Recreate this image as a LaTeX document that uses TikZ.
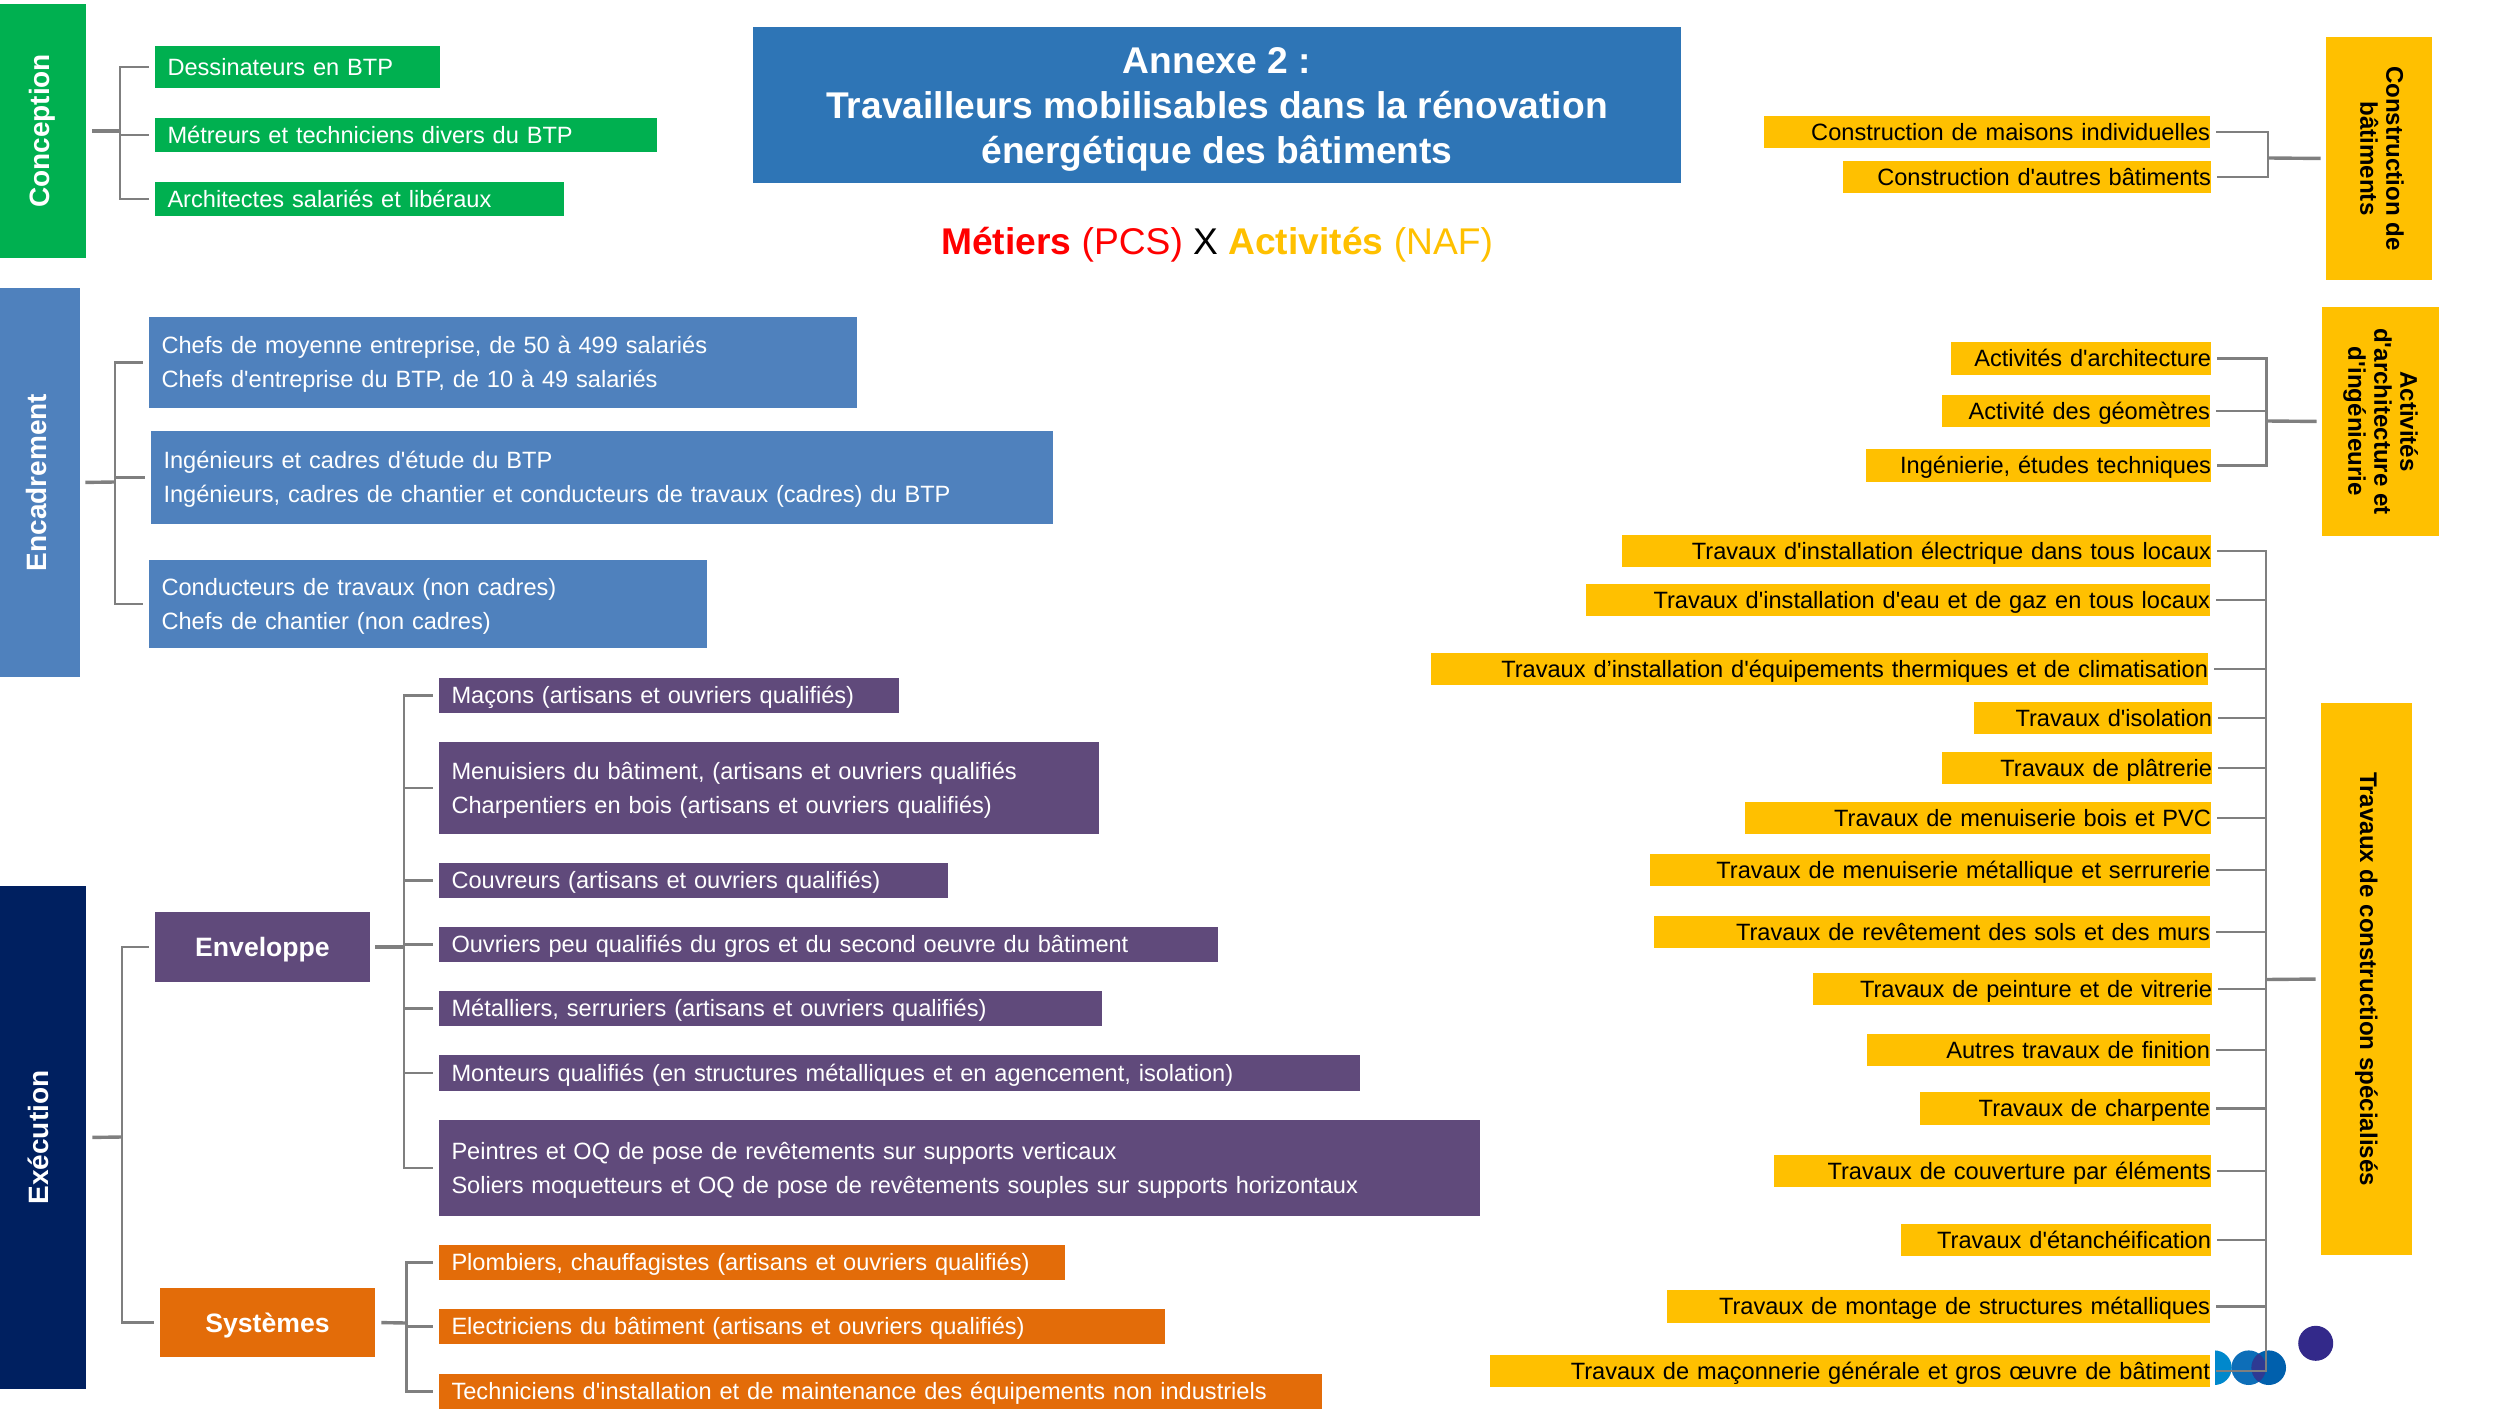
\documentclass[tikz,border=0pt]{standalone}
\usepackage{fontspec}
\setmainfont{Liberation Sans}[Ligatures=TeXOff]
\usetikzlibrary{positioning, calc}
\definecolor{concGreen}{HTML}{00B050}
\definecolor{encBlue}{HTML}{4F81BD}
\definecolor{execNavy}{HTML}{002060}
\definecolor{envPurple}{HTML}{604A7B}
\definecolor{sysOrange}{HTML}{E36C09}
\definecolor{nafYellow}{HTML}{FFC000}
\definecolor{titleBlue}{HTML}{2E75B6}
\definecolor{linkGray}{HTML}{7F7F7F}
\definecolor{metierRed}{HTML}{FF0000}
\definecolor{dotSky}{HTML}{0088CC}
\definecolor{dotMid}{HTML}{0D6EB8}
\definecolor{dotDeep}{HTML}{0060AD}
\definecolor{dotInk}{HTML}{2E3A93}
\definecolor{dotPurple}{HTML}{33298A}
% box given by its corners, in pixels of the page
\newcommand{\LeftBox}[7]{
    \node[#1, minimum width={(#5-#3)*0.5pt}, minimum height={(#6-#4)*0.5pt}, text width={(#5-#3-25)*0.5pt}] (#2) at ({(#3+#5)/2},{(#4+#6)/2}) {#7};
}
\newcommand{\RightBox}[6]{
    \node[nafBox, minimum width={(#4-#2)*0.5pt}, minimum height={(#5-#3)*0.5pt}, text width={(#4-#2)*0.5pt}] (#1) at ({(#2+#4)/2},{(#3+#5)/2}) {#6};
}
\newcommand{\SideBox}[7]{
    \node[#1, minimum width={(#6-#4)*0.5pt}, minimum height={(#5-#3)*0.5pt}] (#2) at ({(#3+#5)/2},{(#4+#6)/2}) {#7};
}
\newcommand{\TopStrut}{\rule{0pt}{12.15pt}}
\newcommand{\LowStrut}{\rule[-3.85pt]{0pt}{3.85pt}}
\tikzset{
    % Common
    pagePic/.style={x=0.5pt, y=-0.5pt},
    bodyFont/.style={font=\fontsize{11.8}{17}\selectfont},
    jobBox/.style={rectangle, draw=none, inner xsep=6.25pt, inner ysep=0pt, align=left, text=white, bodyFont,
        execute at begin node=\TopStrut, execute at end node=\LowStrut},
    concBox/.style={jobBox, fill=concGreen},
    encBox/.style={jobBox, fill=encBlue},
    envBox/.style={jobBox, fill=envPurple},
    sysBox/.style={jobBox, fill=sysOrange},
    nafBox/.style={rectangle, draw=none, fill=nafYellow, inner sep=0pt, align=right, text=black, bodyFont,
        execute at begin node=\TopStrut, execute at end node=\LowStrut},
    % Side Styles
    sideLeft/.style={rectangle, draw=none, inner sep=0pt, rotate=90, text=white, font=\fontsize{14}{17}\selectfont\bfseries},
    sideRight/.style={rectangle, draw=none, fill=nafYellow, inner sep=0pt, rotate=-90, align=center, text=black, font=\fontsize{12.05}{13}\selectfont\bfseries},
    groupBox/.style={rectangle, draw=none, inner sep=0pt, align=center, text=white, font=\fontsize{13.3}{16}\selectfont\bfseries,
        execute at begin node=\rule{0pt}{12.6pt}},
    % Links
    branchLine/.style={draw=linkGray, line width=1.2pt, shorten >=2.6pt},
    branchRight/.style={draw=linkGray, line width=1.2pt, shorten <=3pt},
    stemLine/.style={draw=linkGray, line width=1.7pt},
    % Title
    titleBox/.style={rectangle, draw=none, fill=titleBlue, inner sep=0pt, align=center, text=white, font=\fontsize{18.6}{22.5}\selectfont\bfseries},
    subTitle/.style={inner sep=0pt, font=\fontsize{18.6}{22}\selectfont}
}
\begin{document}
\begin{tikzpicture}[pagePic]
    \useasboundingbox (0,0) rectangle (2509,1411);

    % Title
    \node[titleBox, minimum width={928*0.5pt}, minimum height={156*0.5pt}] (title) at (1217,105) {\rule{0pt}{17.6pt}Annexe 2 :\\Travailleurs mobilisables dans la rénovation\\énergétique des bâtiments};
    \node[subTitle] (crossTitle) at (1217,244.5) {\textcolor{metierRed}{\textbf{Métiers} (PCS)} X \textcolor{nafYellow}{\textbf{Activités} (NAF)}};

    % Conception
    \SideBox{sideLeft, fill=concGreen}{conc}{0}{4}{86}{258}{\raisebox{3.6pt}{Conception}}
    \LeftBox{concBox}{dess}{155}{46}{440}{88}{Dessinateurs en BTP}
    \LeftBox{concBox}{metr}{155}{118}{657}{152}{Métreurs et techniciens divers du BTP}
    \LeftBox{concBox}{arch}{155}{182}{564}{216}{Architectes salariés et libéraux}
    \coordinate (concJoint) at (120,131);
    \draw[stemLine, shorten <=3pt] (conc.south) -- (concJoint);
    \foreach \n in {dess, metr, arch} \draw[branchLine] (concJoint) |- (\n.west);

    % Encadrement
    \SideBox{sideLeft, fill=encBlue}{enc}{0}{288}{80}{677}{\raisebox{4pt}{Encadrement}}
    \LeftBox{encBox}{chefs}{149}{317}{857}{408}{Chefs de moyenne entreprise, de 50 à 499 salariés\\Chefs d'entreprise du BTP, de 10 à 49 salariés}
    \LeftBox{encBox}{inge}{151}{431}{1053}{524}{Ingénieurs et cadres d'étude du BTP\\Ingénieurs, cadres de chantier et conducteurs de travaux (cadres) du BTP}
    \LeftBox{encBox}{cond}{149}{560}{707}{648}{Conducteurs de travaux (non cadres)\\Chefs de chantier (non cadres)}
    \coordinate (encJoint) at (115,482);
    \draw[stemLine, shorten <=2.5pt] (enc.south) -- (encJoint);
    \foreach \n in {chefs, inge, cond} \draw[branchLine] (encJoint) |- (\n.west);

    % Execution
    \SideBox{sideLeft, fill=execNavy}{exec}{0}{886}{86}{1389}{\raisebox{4.4pt}{Exécution}}
    \node[groupBox, fill=envPurple, minimum width={215*0.5pt}, minimum height={70*0.5pt}] (env) at (262.5,947) {Enveloppe};
    \node[groupBox, fill=sysOrange, minimum width={215*0.5pt}, minimum height={69*0.5pt}] (sys) at (267.5,1322.5) {Systèmes};
    \coordinate (execJoint) at (122,1137);
    \draw[stemLine, shorten <=3pt] (exec.south) -- (execJoint);
    \foreach \n in {env, sys} \draw[branchLine] (execJoint) |- (\n.west);

    % Enveloppe
    \LeftBox{envBox}{macon}{439}{678}{899}{713}{Maçons (artisans et ouvriers qualifiés)}
    \LeftBox{envBox}{menu}{439}{742}{1099}{834}{Menuisiers du bâtiment, (artisans et ouvriers qualifiés\\Charpentiers en bois (artisans et ouvriers qualifiés)}
    \LeftBox{envBox}{couv}{439}{863}{948}{898}{Couvreurs (artisans et ouvriers qualifiés)}
    \LeftBox{envBox}{ouvr}{439}{927}{1218}{962}{Ouvriers peu qualifiés du gros et du second oeuvre du bâtiment}
    \LeftBox{envBox}{meta}{439}{991}{1102}{1026}{Métalliers, serruriers (artisans et ouvriers qualifiés)}
    \LeftBox{envBox}{mont}{439}{1055}{1360}{1091}{Monteurs qualifiés (en structures métalliques et en agencement, isolation)}
    \LeftBox{envBox}{pein}{439}{1120}{1480}{1216}{Peintres et OQ de pose de revêtements sur supports verticaux\\Soliers moquetteurs et OQ de pose de revêtements souples sur supports horizontaux}
    \coordinate (envJoint) at (404,947);
    \draw[stemLine, shorten <=2.5pt] (env.east) -- (envJoint);
    \foreach \n in {macon, menu, couv, ouvr, meta, mont, pein} \draw[branchLine] (envJoint) |- (\n.west);

    % Systemes
    \LeftBox{sysBox}{plom}{439}{1245}{1065}{1280}{Plombiers, chauffagistes (artisans et ouvriers qualifiés)}
    \LeftBox{sysBox}{elec}{439}{1309}{1165}{1344}{Electriciens du bâtiment (artisans et ouvriers qualifiés)}
    \LeftBox{sysBox}{tech}{439}{1374}{1322}{1409}{Techniciens d'installation et de maintenance des équipements non industriels}
    \coordinate (sysJoint) at (406.5,1323);
    \draw[stemLine, shorten <=3pt] (sys.east) -- (sysJoint);
    \foreach \n in {plom, elec, tech} \draw[branchLine] (sysJoint) |- (\n.west);

    % Logo dots
    \begin{scope}
        \clip (2215,1340) rectangle (2240,1395);
        \fill[dotSky] (2214.4,1367.7) circle (17.3);
    \end{scope}
    \fill[dotMid] (2248.7,1367.7) circle (17.3);
    \fill[dotDeep] (2268.7,1367.7) circle (17.3);
    \begin{scope}
        \clip (2248.7,1367.7) circle (17.3);
        \fill[dotInk] (2268.7,1367.7) circle (17.3);
    \end{scope}
    \fill[dotPurple] (2315.7,1343.3) circle (17.5);

    % Construction de batiments
    \SideBox{sideRight}{consGroup}{2326}{37}{2432}{280}{Construction de\\bâtiments\rule[-3pt]{0pt}{3pt}}
    \RightBox{consMaison}{1764}{116}{2210}{148}{Construction de maisons individuelles}
    \RightBox{consAutre}{1843}{161}{2211}{193}{Construction d'autres bâtiments}
    \coordinate (consJoint) at (2268,158);
    \draw[stemLine, shorten >=2.5pt] (consJoint) -- (consGroup.south);
    \foreach \n in {consMaison, consAutre} \draw[branchRight] (\n.east) -| (consJoint);

    % Activites
    \SideBox{sideRight}{actiGroup}{2322}{307}{2439}{536}{Activités\\d'architecture et\\d'ingénieurie}
    \RightBox{actiArch}{1951}{342}{2211}{375}{Activités d'architecture}
    \RightBox{actiGeom}{1942}{395}{2210}{427}{Activité des géomètres}
    \RightBox{actiInge}{1866}{449}{2211}{482}{Ingénierie, études techniques}
    \coordinate (actiJoint) at (2266.5,421);
    \draw[stemLine, shorten >=2.5pt] (actiJoint) -- (actiGroup.south);
    \foreach \n in {actiArch, actiGeom, actiInge} \draw[branchRight] (\n.east) -| (actiJoint);

    % Travaux specialises
    \SideBox{sideRight}{travGroup}{2321}{703}{2412}{1255}{Travaux de construction spécialisés}
    \RightBox{travElec}{1622}{535}{2211}{567}{Travaux d'installation électrique dans tous locaux}
    \RightBox{travEau}{1586}{584}{2210}{616}{Travaux d'installation d'eau et de gaz en tous locaux}
    \RightBox{travTherm}{1431}{653}{2208}{685}{Travaux d’installation d'équipements thermiques et de climatisation}
    \RightBox{travIsol}{1974}{702}{2212}{734}{Travaux d'isolation}
    \RightBox{travPlat}{1942}{752}{2212}{784}{Travaux de plâtrerie}
    \RightBox{travBois}{1745}{802}{2211}{834}{Travaux de menuiserie bois et PVC}
    \RightBox{travMetal}{1650}{854}{2210}{886}{Travaux de menuiserie métallique et serrurerie}
    \RightBox{travSols}{1654}{916}{2210}{948}{Travaux de revêtement des sols et des murs}
    \RightBox{travPein}{1813}{973}{2212}{1005}{Travaux de peinture et de vitrerie}
    \RightBox{travFin}{1867}{1034}{2210}{1066}{Autres travaux de finition}
    \RightBox{travChar}{1920}{1092}{2210}{1125}{Travaux de charpente}
    \RightBox{travCouv}{1774}{1155}{2211}{1187}{Travaux de couverture par éléments}
    \RightBox{travEtan}{1901}{1224}{2211}{1256}{Travaux d'étanchéification}
    \RightBox{travMont}{1667}{1290}{2210}{1323}{Travaux de montage de structures métalliques}
    \RightBox{travMaco}{1490}{1355}{2210}{1387}{Travaux de maçonnerie générale et gros œuvre de bâtiment}
    \coordinate (travJoint) at (2266,979.5);
    \draw[stemLine, shorten >=2.5pt] (travJoint) -- (travGroup.south);
    \foreach \n in {travElec, travEau, travTherm, travIsol, travPlat, travBois, travMetal, travSols, travPein, travFin, travChar, travCouv, travEtan, travMont, travMaco}
        \draw[branchRight] (\n.east) -| (travJoint);
\end{tikzpicture}
\end{document}
